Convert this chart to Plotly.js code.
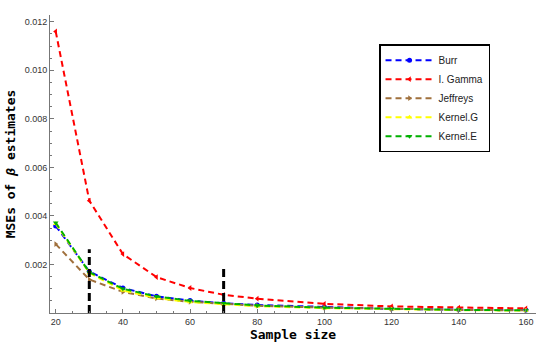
<!DOCTYPE html>
<html><head><meta charset="utf-8">
<script src="https://cdn.plot.ly/plotly-3.0.1.min.js"></script>
<style>html,body{margin:0;padding:0;background:#fff}#c{width:545px;height:344px}</style>
</head><body><div id="c"></div>
<script>
const sampleSize = [20, 30, 40, 50, 60, 70, 80, 100, 120, 140, 160];
const burr     = [0.00359, 0.00171, 0.00103, 0.00069, 0.00051, 0.00040, 0.00033, 0.00025, 0.00017, 0.00014, 0.00012];
const iGamma   = [0.01160, 0.00463, 0.00243, 0.00148, 0.00103, 0.00075, 0.00059, 0.00038, 0.00027, 0.00022, 0.00019];
const jeffreys = [0.00284, 0.00138, 0.00087, 0.00060, 0.00046, 0.00037, 0.00030, 0.00022, 0.00016, 0.00013, 0.00011];
const kernelG  = [0.00368, 0.00165, 0.00093, 0.00062, 0.00045, 0.00035, 0.00028, 0.00020, 0.00015, 0.00012, 0.00010];
const kernelE  = [0.00372, 0.00168, 0.00100, 0.00068, 0.00050, 0.00040, 0.00031, 0.00022, 0.00016, 0.00013, 0.00011];
const seriesNames = ['Burr', 'I. Gamma', 'Jeffreys', 'Kernel.G', 'Kernel.E'];
const vlineX = [30, 70];
const vlineTop = [0.00263, 0.00195];

const colors = ['#0000ff', '#ff0000', '#a0703c', '#ffff00', '#00b000'];
const symbols = ['circle', 'triangle-left', 'triangle-right', 'triangle-up', 'triangle-down'];
const vals = [burr, iGamma, jeffreys, kernelG, kernelE];

const traces = vals.map((v, i) => ({
  x: sampleSize, y: v, name: seriesNames[i], type: 'scatter', mode: 'lines+markers',
  line: {color: colors[i], width: 2, dash: '6px,4px'},
  marker: {color: colors[i], symbol: symbols[i], size: 5}
}));
vlineX.forEach((x, i) => traces.push({
  x: [x, x], y: [0, vlineTop[i]], type: 'scatter', mode: 'lines', showlegend: false,
  line: {color: '#000', width: 3, dash: '8px,4px'}, hoverinfo: 'skip'
}));

const layout = {
  width: 545, height: 344,
  margin: {l: 50, r: 9, t: 15, b: 31},
  paper_bgcolor: '#fff', plot_bgcolor: '#fff',
  showlegend: true,
  legend: {x: 0.677, y: 0.902, xanchor: 'left', yanchor: 'top',
    bgcolor: '#fff', bordercolor: '#000', borderwidth: 1.5,
    font: {family: 'Liberation Sans, Arial, sans-serif', size: 10, color: '#222'},
    itemwidth: 48},
  xaxis: {range: [18.3, 163], showgrid: false, zeroline: false,
    showline: true, linecolor: '#777', linewidth: 1,
    ticks: 'inside', ticklen: 4, tickcolor: '#777', tickvals: [20, 40, 60, 80, 100, 120, 140, 160],
    minor: {dtick: 5, tick0: 0, ticks: 'inside', ticklen: 2, tickcolor: '#777'},
    tickfont: {family: 'Liberation Sans, Arial, sans-serif', size: 9, color: '#333'},
    title: {text: '<b>Sample size</b>', standoff: 4,
      font: {family: 'DejaVu Sans Mono, monospace', size: 13, color: '#000'}}},
  yaxis: {range: [0, 0.01228], showgrid: false, zeroline: false,
    showline: true, linecolor: '#777', linewidth: 1,
    ticks: 'inside', ticklen: 4, tickcolor: '#777',
    tickvals: [0.002, 0.004, 0.006, 0.008, 0.010, 0.012], tickformat: '.3f',
    minor: {dtick: 0.0005, tick0: 0, ticks: 'inside', ticklen: 2, tickcolor: '#777'},
    tickfont: {family: 'Liberation Sans, Arial, sans-serif', size: 9, color: '#333'},
    title: {text: '<b>MSEs of <i>β</i> estimates</b>', standoff: 6,
      font: {family: 'DejaVu Sans Mono, monospace', size: 13, color: '#000'}}}
};
Plotly.newPlot('c', traces, layout, {staticPlot: true});
</script></body></html>
